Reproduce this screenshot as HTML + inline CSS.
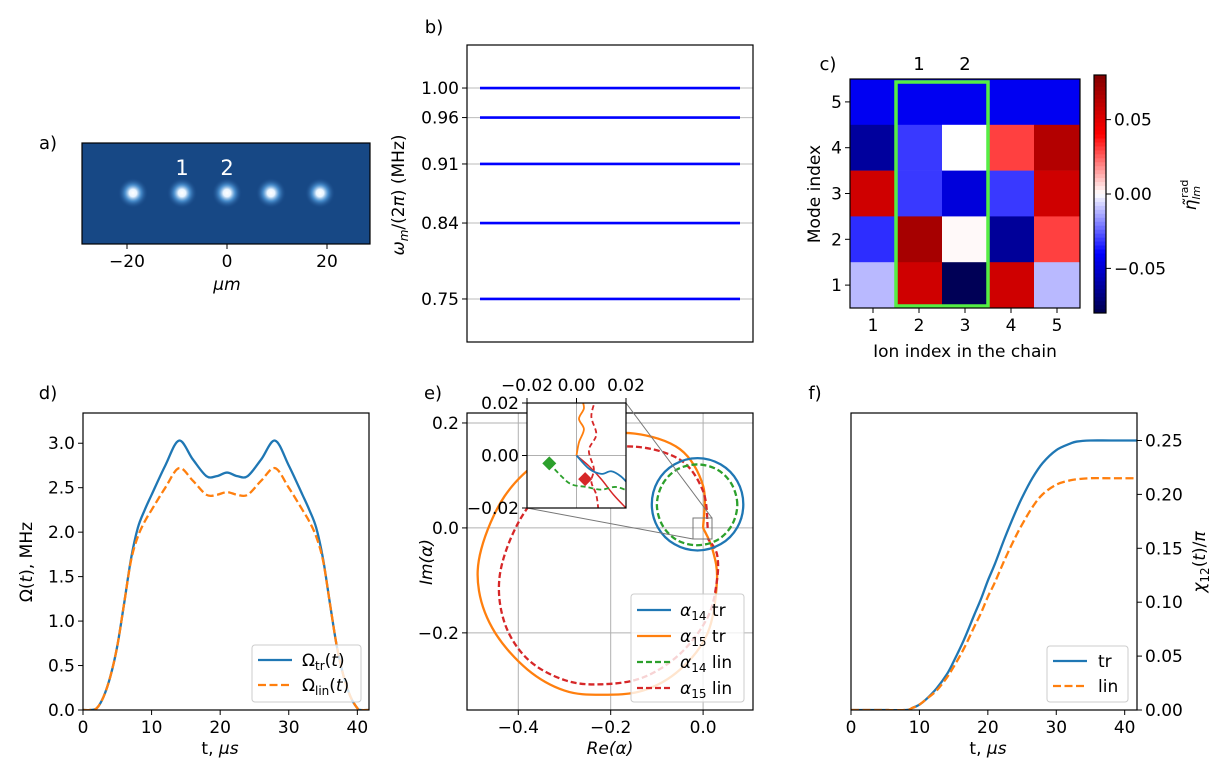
<!DOCTYPE html>
<html><head><meta charset="utf-8"><title>Figure</title>
<style>
html,body{margin:0;padding:0;background:#fff;}
svg{display:block;font-family:"DejaVu Sans","Liberation Sans",sans-serif;}
</style></head>
<body>
<svg id="fig" width="1232" height="784" viewBox="0 0 1232 784" xmlns="http://www.w3.org/2000/svg">
<defs>
<radialGradient id="ionGlow">
<stop offset="0" stop-color="#ffffff"/>
<stop offset="0.25" stop-color="#e8f4ff"/>
<stop offset="0.55" stop-color="#5aa6e6" stop-opacity="0.7"/>
<stop offset="1" stop-color="#1c4c8c" stop-opacity="0"/>
</radialGradient>
<clipPath id="clipD"><rect x="83" y="413" width="286" height="297"/></clipPath>
<clipPath id="clipE"><rect x="467" y="413" width="286" height="297"/></clipPath>
<clipPath id="clipF"><rect x="851" y="413" width="286" height="297"/></clipPath>
<clipPath id="clipIn"><rect x="527" y="403" width="99" height="105"/></clipPath>
</defs>
</svg>
<script>
// ---------- DATA ----------
// panel a
const ionPositions = [-18.8, -9, 0, 8.8, 18.6];
const ionLabelsA = ["1", "2"];
const xTicksA = [-20, 0, 20];
// panel b
const modeFreqs = [1.00, 0.965, 0.91, 0.84, 0.75];
const modeFreqLabels = ["1.00", "0.96", "0.91", "0.84", "0.75"];
// panel c (rows: mode 5..1, cols: ion 1..5)
const modeIdx = [5, 4, 3, 2, 1];
const ionIdx = [1, 2, 3, 4, 5];
const etaRow5 = [-0.043, -0.043, -0.043, -0.043, -0.043];
const etaRow4 = [-0.062, -0.031, 0.0, 0.030, 0.064];
const etaRow3 = [0.055, -0.031, -0.048, -0.031, 0.055];
const etaRow2 = [-0.033, 0.068, 0.001, -0.063, 0.030];
const etaRow1 = [-0.011, 0.055, -0.078, 0.055, -0.011];
const cbTicks = [0.05, 0.00, -0.05];
const cbTickLabels = ["0.05", "0.00", "\u22120.05"];
// panel d
const tD = [0, 1, 2, 3, 4, 5, 6, 7, 8, 9, 10, 12, 14, 16, 18, 19.5, 21, 22.5, 24, 26, 28, 30, 32, 33, 34, 35, 36, 37, 38, 39, 40, 40.5, 41.7];
const omegaTr = [0, 0, 0.02, 0.15, 0.38, 0.72, 1.2, 1.7, 2.05, 2.25, 2.42, 2.75, 3.03, 2.82, 2.63, 2.63, 2.67, 2.63, 2.63, 2.82, 3.03, 2.75, 2.42, 2.25, 2.05, 1.7, 1.2, 0.72, 0.38, 0.15, 0.02, 0, 0];
const omegaLin = [0, 0, 0.02, 0.15, 0.38, 0.72, 1.2, 1.68, 1.95, 2.12, 2.25, 2.5, 2.72, 2.58, 2.42, 2.42, 2.45, 2.42, 2.42, 2.58, 2.72, 2.5, 2.25, 2.12, 1.95, 1.68, 1.2, 0.72, 0.38, 0.15, 0.02, 0, 0];
const xTicksD = [0, 10, 20, 30, 40];
const yTicksD = [0, 0.5, 1.0, 1.5, 2.0, 2.5, 3.0];
// panel e
const a14trX = [0.087, 0.074, 0.038, -0.012, -0.062, -0.098, -0.111, -0.098, -0.062, -0.012, 0.038, 0.074];
const a14trY = [0.045, 0.089, 0.121, 0.133, 0.121, 0.089, 0.045, 0.001, -0.031, -0.043, -0.031, 0.001];
const a14linX = [0.074, 0.062, 0.031, -0.013, -0.057, -0.088, -0.1, -0.088, -0.057, -0.013, 0.031, 0.062];
const a14linY = [0.044, 0.083, 0.111, 0.121, 0.111, 0.083, 0.044, 0.005, -0.023, -0.033, -0.023, 0.005];
const a15trX = [0, 0.0, -0.05, -0.15, -0.25, -0.35, -0.43, -0.48, -0.485, -0.45, -0.38, -0.3, -0.22, -0.13, -0.05, 0.01, 0.03, 0.02, 0];
const a15trY = [0, 0.08, 0.15, 0.18, 0.17, 0.13, 0.06, -0.04, -0.12, -0.2, -0.27, -0.31, -0.318, -0.31, -0.27, -0.2, -0.1, -0.04, 0];
const a15linX = [0.01, 0.0, -0.05, -0.15, -0.25, -0.33, -0.4, -0.44, -0.43, -0.38, -0.3, -0.22, -0.13, -0.05, 0.01, 0.03, 0.03, 0.01];
const a15linY = [0.0, 0.07, 0.13, 0.155, 0.14, 0.09, 0.01, -0.09, -0.18, -0.25, -0.29, -0.298, -0.285, -0.24, -0.17, -0.1, -0.05, -0.02];
const xTicksE = [-0.4, -0.2, 0.0];
const yTicksE = [0.2, 0.0, -0.2];
// inset e
const inOrX = [0, 0.001, 0.003, 0.001, 0.003, 0.002];
const inOrY = [0, 0.005, 0.01, 0.014, 0.018, 0.022];
const inRedX = [0.008, 0.006, 0.008, 0.005, 0.007, 0.006, 0.008, 0.009];
const inRedY = [0.022, 0.015, 0.008, 0.002, -0.005, -0.01, -0.015, -0.022];
const inRed2X = [0, 0.005, 0.01, 0.015, 0.02];
const inRed2Y = [0, -0.004, -0.009, -0.015, -0.02];
const inBlueX = [0, 0.005, 0.01, 0.014, 0.018, 0.022];
const inBlueY = [0, -0.005, -0.007, -0.006, -0.008, -0.012];
const inGrX = [-0.011, -0.006, -0.002, 0.004, 0.01, 0.016, 0.022];
const inGrY = [-0.003, -0.008, -0.011, -0.012, -0.013, -0.012, -0.014];
const diamondGreen = [-0.011, -0.003];
const diamondRed = [0.0035, -0.009];
const inTicks = [-0.02, 0.00, 0.02];
// panel f
const tF = [0, 4, 8, 9, 10, 11, 12.5, 14, 15, 16.5, 18, 19, 20, 21, 22.5, 24, 25, 26.5, 28, 30, 32, 33, 35, 38, 41.8];
const chiTr = [0, 0, 0, 0.002, 0.005, 0.01, 0.02, 0.033, 0.045, 0.065, 0.088, 0.103, 0.12, 0.135, 0.16, 0.183, 0.197, 0.215, 0.229, 0.241, 0.247, 0.249, 0.25, 0.25, 0.25];
const chiLin = [0, 0, 0, 0.002, 0.005, 0.01, 0.018, 0.03, 0.04, 0.057, 0.077, 0.09, 0.105, 0.118, 0.14, 0.16, 0.172, 0.188, 0.2, 0.209, 0.213, 0.214, 0.215, 0.215, 0.215];
const xTicksF = [0, 10, 20, 30, 40];
const yTicksF = [0, 0.05, 0.10, 0.15, 0.20, 0.25];

// ---------- HELPERS ----------
const NS = "http://www.w3.org/2000/svg";
const svg = document.getElementById("fig");
const FS = 17;
function mk(tag, attrs, parent) {
  const el = document.createElementNS(NS, tag);
  for (const k in attrs) el.setAttribute(k, attrs[k]);
  (parent || svg).appendChild(el);
  return el;
}
function txt(x, y, s, size, anchor, name, extra) {
  const el = mk("text", Object.assign({x: x, y: y, "font-size": size, "text-anchor": anchor || "middle", fill: "#000"}, extra || {}));
  el.textContent = s;
  
  
  return el;
}
function lin(x0, x1, d0, d1) { return v => x0 + (v - d0) / (d1 - d0) * (x1 - x0); }
function cr(pts, closed) {
  const n = pts.length;
  if (n < 2) return "";
  const g = i => closed ? pts[(i + n) % n] : pts[Math.max(0, Math.min(n - 1, i))];
  let d = "M" + pts[0][0].toFixed(2) + "," + pts[0][1].toFixed(2);
  const last = closed ? n : n - 1;
  for (let i = 0; i < last; i++) {
    const p0 = g(i - 1), p1 = g(i), p2 = g(i + 1), p3 = g(i + 2);
    const c1 = [p1[0] + (p2[0] - p0[0]) / 6, p1[1] + (p2[1] - p0[1]) / 6];
    const c2 = [p2[0] - (p3[0] - p1[0]) / 6, p2[1] - (p3[1] - p1[1]) / 6];
    d += "C" + c1[0].toFixed(2) + "," + c1[1].toFixed(2) + " " + c2[0].toFixed(2) + "," + c2[1].toFixed(2) + " " + p2[0].toFixed(2) + "," + p2[1].toFixed(2);
  }
  return closed ? d + "Z" : d;
}
function series(xs, ys, sx, sy, color, dash, name, clip, closed, w) {
  const pts = xs.map((v, i) => [sx(v), sy(ys[i])]);
  const el = mk("path", {d: cr(pts, closed), fill: "none", stroke: color, "stroke-width": w || 2.3, "stroke-dasharray": dash || "none", "clip-path": clip ? "url(#" + clip + ")" : "none", "stroke-linejoin": "round"});
  
  
  return el;
}
function frame(x0, y0, x1, y1, name) {
  const el = mk("rect", {x: x0, y: y0, width: x1 - x0, height: y1 - y0, fill: "none", stroke: "#000", "stroke-width": 1.2});
  
  
  return el;
}
function xTicks(vals, labels, sx, yb, name, fs) {
  vals.forEach((v, i) => {
    const x = sx(v);
    const t = mk("line", {x1: x, x2: x, y1: yb, y2: yb + 5, stroke: "#000", "stroke-width": 1});
    
    
    txt(x, yb + 23, labels[i], fs || FS, "middle", name + "-label");
  });
}
function yTicks(vals, labels, sy, xl, name, right, fs) {
  vals.forEach((v, i) => {
    const y = sy(v);
    const t = mk("line", {x1: xl, x2: right ? xl + 5 : xl - 5, y1: y, y2: y, stroke: "#000", "stroke-width": 1});
    
    
    txt(right ? xl + 8 : xl - 8, y + 6, labels[i], fs || FS, right ? "start" : "end", name + "-label");
  });
}
const fmtMinus = s => s.replace("-", "\u2212");

// ---------- PANEL A ----------
(function () {
  const sx = lin(82, 370, -29, 28.6);
  const bg = mk("rect", {x: 82, y: 143, width: 288, height: 101, fill: "#174885"});
  
  
  ionPositions.forEach((p, i) => {
    const c = mk("circle", {cx: sx(p), cy: 193, r: 15, fill: "url(#ionGlow)"});
    
    
  });
  ionLabelsA.forEach((s, i) => {
    txt(sx(ionPositions[i + 1]), 175, s, 21, "middle", "ion-label-" + s, {fill: "#fff"});
  });
  frame(82, 143, 370, 244, "panel-a-frame");
  xTicks(xTicksA, xTicksA.map(v => fmtMinus(String(v))), sx, 244, "a-x");
  txt(227, 290, "\u03bcm", FS, "middle", "a-x-title", {"font-style": "italic"});
  txt(48, 149, "a)", 18, "middle", "panel-a-tag");
})();

// ---------- PANEL B ----------
(function () {
  const sy = lin(342, 45, 0.699, 1.051);
  modeFreqs.forEach((f, i) => {
    const g = mk("line", {x1: 467, x2: 753, y1: sy(f), y2: sy(f), stroke: "#bbb", "stroke-width": 1});
    
    
    const l = mk("line", {x1: 480, x2: 740, y1: sy(f), y2: sy(f), stroke: "#0000ff", "stroke-width": 2.6});
    
    
  });
  frame(467, 45, 753, 342, "panel-b-frame");
  yTicks(modeFreqs, modeFreqLabels, sy, 467, "b-y");
  const t = txt(404, 195, "", FS, "middle", "b-y-title", {transform: "rotate(-90 404 195)"});
  t.innerHTML = '<tspan font-style="italic">\u03c9</tspan><tspan font-style="italic" font-size="12" dy="4">m</tspan><tspan dy="-4">/(2</tspan><tspan font-style="italic">\u03c0</tspan><tspan>) (MHz)</tspan>';
  txt(434, 33, "b)", 18, "middle", "panel-b-tag");
})();

// ---------- PANEL C ----------
function seismic(v) {
  let t = (v + 0.08) / 0.16; t = Math.max(0, Math.min(1, t));
  const stops = [[0, 0, 0, 77], [0.25, 0, 0, 255], [0.5, 255, 255, 255], [0.75, 255, 0, 0], [1, 128, 0, 0]];
  for (let i = 0; i < 4; i++) {
    const a = stops[i], b = stops[i + 1];
    if (t <= b[0]) {
      const u = (t - a[0]) / (b[0] - a[0]);
      return "rgb(" + [1, 2, 3].map(k => Math.round(a[k] + (b[k] - a[k]) * u)).join(",") + ")";
    }
  }
  return "rgb(128,0,0)";
}
(function () {
  const rows = [etaRow5, etaRow4, etaRow3, etaRow2, etaRow1];
  const sx = lin(850, 1080, 0.5, 5.5);
  const sy = lin(79, 308, 5.5, 0.5);
  rows.forEach((row, r) => {
    row.forEach((v, c) => {
      const x0 = sx(ionIdx[c] - 0.5), x1 = sx(ionIdx[c] + 0.5);
      const y0 = sy(modeIdx[r] + 0.5), y1 = sy(modeIdx[r] - 0.5);
      const el = mk("rect", {x: x0, y: y0, width: x1 - x0 + 0.3, height: y1 - y0 + 0.3, fill: seismic(v)});
      
      
    });
  });
  const g = mk("rect", {x: 896, y: 82, width: 92, height: 224, fill: "none", stroke: "#55ee44", "stroke-width": 3.5});
  
  
  frame(850, 79, 1080, 308, "panel-c-frame");
  xTicks(ionIdx, ionIdx.map(String), sx, 308, "c-x");
  yTicks(modeIdx, modeIdx.map(String), sy, 850, "c-y");
  txt(919, 70, "1", 18, "middle", "c-top-label-1");
  txt(965, 70, "2", 18, "middle", "c-top-label-2");
  txt(965, 357, "Ion index in the chain", FS, "middle", "c-x-title");
  txt(820, 194, "Mode index", FS, "middle", "c-y-title", {transform: "rotate(-90 820 194)"});
  txt(828, 70, "c)", 18, "middle", "panel-c-tag");
  const nSteps = 60;
  for (let i = 0; i < nSteps; i++) {
    const v = 0.08 - 0.16 * (i + 0.5) / nSteps;
    const el = mk("rect", {x: 1094, y: 75 + i * 238 / nSteps, width: 12, height: 238 / nSteps + 0.5, fill: seismic(v)});
    
    
  }
  frame(1094, 75, 1106, 313, "colorbar-frame");
  const sc = lin(313, 75, -0.08, 0.08);
  yTicks(cbTicks, cbTickLabels, sc, 1106, "cb", true);
  const t = txt(1196, 195, "", FS, "middle", "colorbar-title", {transform: "rotate(-90 1196 195)"});
  t.innerHTML = '<tspan font-style="italic">\u03b7\u0303</tspan><tspan font-size="11" dy="4" font-style="italic">lm</tspan><tspan font-size="11" dy="-12" dx="-12">rad</tspan>';
})();

// ---------- PANEL D ----------
(function () {
  const sx = lin(83, 369, 0, 41.7);
  const sy = lin(710, 413, 0, 3.34);
  series(tD, omegaTr, sx, sy, "#1f77b4", null, "omega-tr-line", "clipD");
  series(tD, omegaLin, sx, sy, "#ff7f0e", "8,3.5", "omega-lin-line", "clipD");
  frame(83, 413, 369, 710, "panel-d-frame");
  xTicks(xTicksD, xTicksD.map(String), sx, 710, "d-x");
  yTicks(yTicksD, yTicksD.map(v => v.toFixed(1)), sy, 83, "d-y");
  const xt = txt(220, 754, "", FS, "middle", "d-x-title");
  xt.innerHTML = 't, <tspan font-style="italic">\u03bcs</tspan>';
  const yt = txt(32, 562, "", FS, "middle", "d-y-title", {transform: "rotate(-90 32 562)"});
  yt.innerHTML = '\u03a9(<tspan font-style="italic">t</tspan>), MHz';
  txt(48, 399, "d)", 18, "middle", "panel-d-tag");
  const lg = mk("rect", {x: 252, y: 645, width: 109, height: 57, rx: 3, fill: "#fff", "fill-opacity": 0.8, stroke: "#ccc"});
  
  
  const l1 = mk("line", {x1: 258, x2: 292, y1: 660, y2: 660, stroke: "#1f77b4", "stroke-width": 2.3});
  
  
  const l2 = mk("line", {x1: 258, x2: 292, y1: 685, y2: 685, stroke: "#ff7f0e", "stroke-width": 2.3, "stroke-dasharray": "8,3.5"});
  
  
  const a = txt(302, 666, "", FS, "start", "d-legend-entry-tr");
  a.innerHTML = '\u03a9<tspan font-size="12" dy="4">tr</tspan><tspan dy="-4">(</tspan><tspan font-style="italic">t</tspan>)';
  const b = txt(302, 691, "", FS, "start", "d-legend-entry-lin");
  b.innerHTML = '\u03a9<tspan font-size="12" dy="4">lin</tspan><tspan dy="-4">(</tspan><tspan font-style="italic">t</tspan>)';
})();

// ---------- PANEL E ----------
(function () {
  const sx = lin(467, 753, -0.511, 0.108);
  const sy = lin(710, 413, -0.347, 0.219);
  xTicksE.forEach(v => {
    const g = mk("line", {x1: sx(v), x2: sx(v), y1: 413, y2: 710, stroke: "#b0b0b0", "stroke-width": 1});
    
    
  });
  yTicksE.forEach(v => {
    const g = mk("line", {x1: 467, x2: 753, y1: sy(v), y2: sy(v), stroke: "#b0b0b0", "stroke-width": 1});
    
    
  });
  series(a15trX, a15trY, sx, sy, "#ff7f0e", null, "alpha15-tr-line", "clipE", false);
  series(a15linX, a15linY, sx, sy, "#d62728", "6,3", "alpha15-lin-line", "clipE", false);
  series(a14trX, a14trY, sx, sy, "#1f77b4", null, "alpha14-tr-line", "clipE", true);
  series(a14linX, a14linY, sx, sy, "#2ca02c", "6,3", "alpha14-lin-line", "clipE", true);
  frame(467, 413, 753, 710, "panel-e-frame");
  xTicks(xTicksE, xTicksE.map(v => fmtMinus(v.toFixed(1))), sx, 710, "e-x");
  yTicks(yTicksE, yTicksE.map(v => fmtMinus(v.toFixed(1))), sy, 467, "e-y");
  txt(610, 754, "Re(\u03b1)", FS, "middle", "e-x-title", {"font-style": "italic"});
  txt(432, 562, "Im(\u03b1)", FS, "middle", "e-y-title", {transform: "rotate(-90 432 562)", "font-style": "italic"});
  txt(433, 399, "e)", 18, "middle", "panel-e-tag");
  const zr = mk("rect", {x: 693, y: 518, width: 19, height: 21, fill: "none", stroke: "#777", "stroke-width": 1});
  
  
  const c1 = mk("line", {x1: 626, y1: 403, x2: 712, y2: 518, stroke: "#777", "stroke-width": 1});
  
  
  const c2 = mk("line", {x1: 527, y1: 508, x2: 693, y2: 539, stroke: "#777", "stroke-width": 1});
  
  
  const ix = lin(527, 626, -0.02, 0.02);
  const iy = lin(508, 403, -0.02, 0.02);
  const ib = mk("rect", {x: 527, y: 403, width: 99, height: 105, fill: "#fff"});
  
  
  const gx = mk("line", {x1: ix(0), x2: ix(0), y1: 403, y2: 508, stroke: "#b0b0b0"});
  
  
  const gy = mk("line", {x1: 527, x2: 626, y1: iy(0), y2: iy(0), stroke: "#b0b0b0"});
  
  
  series(inOrX, inOrY, ix, iy, "#ff7f0e", null, "inset-alpha15-tr", "clipIn", false, 1.8);
  series(inRedX, inRedY, ix, iy, "#d62728", "5,3", "inset-alpha15-lin", "clipIn", false, 1.8);
  series(inRed2X, inRed2Y, ix, iy, "#d62728", null, "inset-alpha15-tr-tail", "clipIn", false, 1.5);
  series(inBlueX, inBlueY, ix, iy, "#1f77b4", null, "inset-alpha14-tr", "clipIn", false, 1.8);
  series(inGrX, inGrY, ix, iy, "#2ca02c", "5,3", "inset-alpha14-lin", "clipIn", false, 1.8);
  [[diamondGreen, "#2ca02c", "inset-marker-green"], [diamondRed, "#d62728", "inset-marker-red"]].forEach(d => {
    const x = ix(d[0][0]), y = iy(d[0][1]);
    const p = mk("polygon", {points: [[x, y - 7], [x + 7, y], [x, y + 7], [x - 7, y]].map(q => q.join(",")).join(" "), fill: d[1]});
    
    
  });
  frame(527, 403, 626, 508, "inset-frame");
  inTicks.forEach(v => {
    const x = ix(v);
    const t = mk("line", {x1: x, x2: x, y1: 403, y2: 398, stroke: "#000"});
    
    
    txt(x, 391, fmtMinus(v.toFixed(2)), FS, "middle", "inset-x-label");
    const y = iy(v);
    const t2 = mk("line", {x1: 527, x2: 522, y1: y, y2: y, stroke: "#000"});
    
    
    txt(519, y + 6, fmtMinus(v.toFixed(2)), FS, "end", "inset-y-label");
  });
  const lg = mk("rect", {x: 631, y: 594, width: 113, height: 108, rx: 3, fill: "#fff", "fill-opacity": 0.8, stroke: "#ccc"});
  
  
  const ents = [["#1f77b4", null, "14", "tr"], ["#ff7f0e", null, "15", "tr"], ["#2ca02c", "6,3", "14", "lin"], ["#d62728", "6,3", "15", "lin"]];
  ents.forEach((e, i) => {
    const y = 610 + i * 26;
    const l = mk("line", {x1: 637, x2: 671, y1: y, y2: y, stroke: e[0], "stroke-width": 2.3, "stroke-dasharray": e[1] || "none"});
    
    
    const t = txt(680, y + 6, "", FS, "start", "e-legend-entry");
    t.innerHTML = '<tspan font-style="italic">\u03b1</tspan><tspan font-size="12" dy="4">' + e[2] + '</tspan><tspan dy="-4"> ' + e[3] + '</tspan>';
  });
})();

// ---------- PANEL F ----------
(function () {
  const sx = lin(851, 1137, 0, 41.8);
  const sy = lin(710, 413, 0, 0.2755);
  series(tF, chiTr, sx, sy, "#1f77b4", null, "chi-tr-line", "clipF");
  series(tF, chiLin, sx, sy, "#ff7f0e", "8,3.5", "chi-lin-line", "clipF");
  frame(851, 413, 1137, 710, "panel-f-frame");
  xTicks(xTicksF, xTicksF.map(String), sx, 710, "f-x");
  yTicks(yTicksF, yTicksF.map(v => v.toFixed(2)), sy, 1137, "f-y", true);
  const xt = txt(988, 754, "", FS, "middle", "f-x-title");
  xt.innerHTML = 't, <tspan font-style="italic">\u03bcs</tspan>';
  const yt = txt(1205, 562, "", FS, "middle", "f-y-title", {transform: "rotate(-90 1205 562)"});
  yt.innerHTML = '<tspan font-style="italic">\u03c7</tspan><tspan font-size="12" dy="4">12</tspan><tspan dy="-4">(</tspan><tspan font-style="italic">t</tspan>)/<tspan font-style="italic">\u03c0</tspan>';
  txt(815, 399, "f)", 18, "middle", "panel-f-tag");
  const lg = mk("rect", {x: 1047, y: 646, width: 81, height: 56, rx: 3, fill: "#fff", "fill-opacity": 0.8, stroke: "#ccc"});
  
  
  const l1 = mk("line", {x1: 1053, x2: 1087, y1: 661, y2: 661, stroke: "#1f77b4", "stroke-width": 2.3});
  
  
  const l2 = mk("line", {x1: 1053, x2: 1087, y1: 686, y2: 686, stroke: "#ff7f0e", "stroke-width": 2.3, "stroke-dasharray": "8,3.5"});
  
  
  txt(1098, 667, "tr", FS, "start", "f-legend-entry-tr");
  txt(1098, 692, "lin", FS, "start", "f-legend-entry-lin");
})();
</script>
</body></html>
